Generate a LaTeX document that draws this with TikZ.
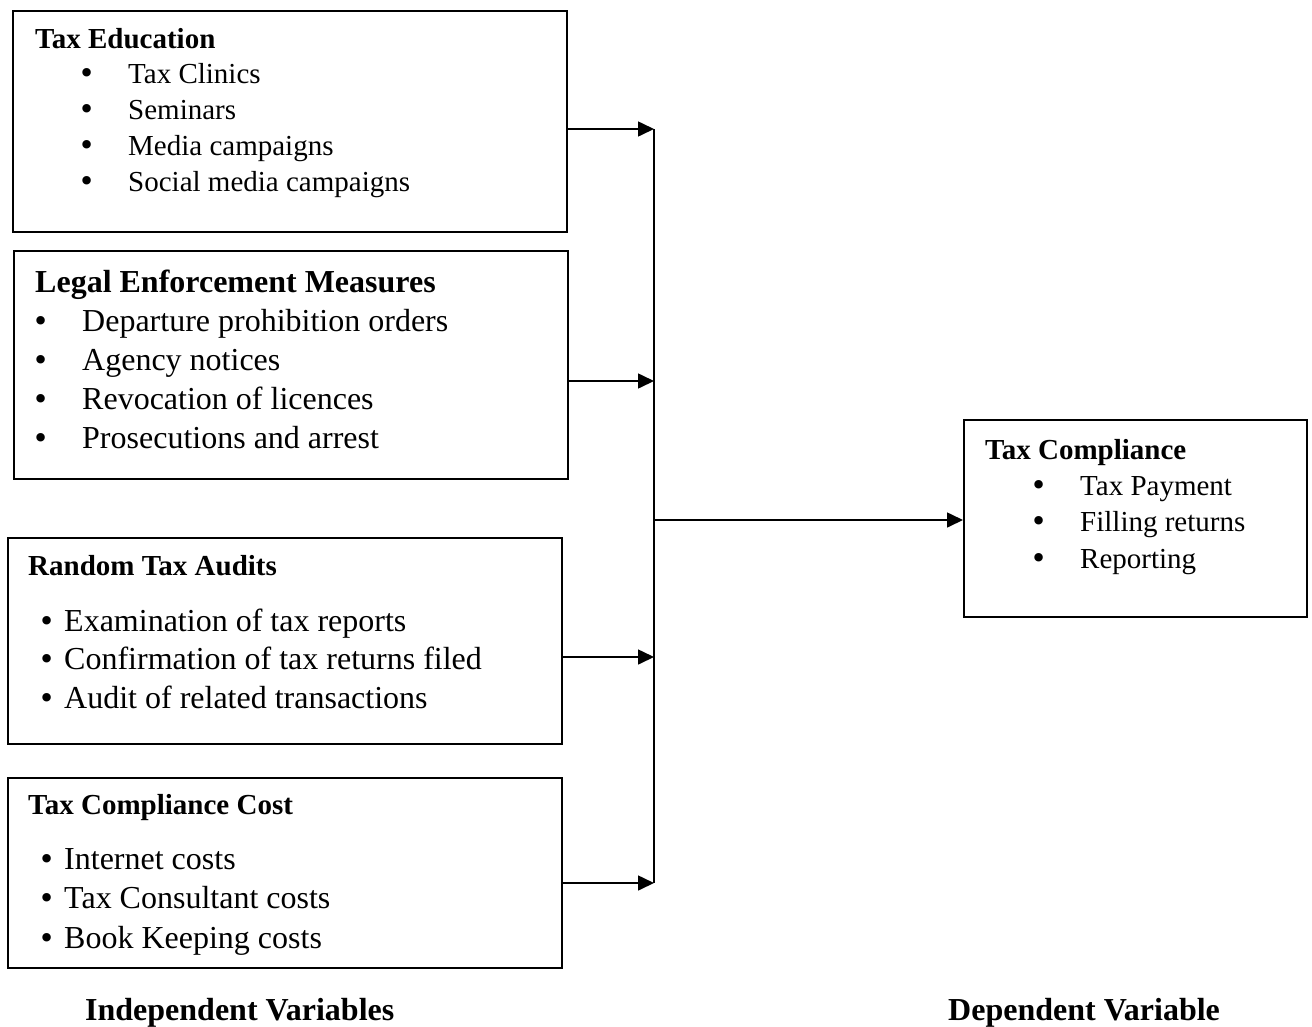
\documentclass[tikz,border=0pt]{standalone}
\usepackage{fontspec}
\setmainfont{Liberation Serif}
\newfontfamily\bulfont{DejaVu Sans}
\usetikzlibrary{arrows.meta}
\begin{document}
\begin{tikzpicture}[x=1pt,y=-1pt,
  box/.style={draw, line width=1.6pt, inner sep=0pt, anchor=north west},
  conn/.style={line width=1.6pt},
  arr/.style={conn, -{Triangle[length=16pt,width=15pt]}},
  hA/.style={inner sep=0pt, anchor=base west, font=\fontsize{29}{35}\selectfont\bfseries},
  hB/.style={inner sep=0pt, anchor=base west, font=\fontsize{32}{38}\selectfont\bfseries},
  tA/.style={inner sep=0pt, anchor=base west, font=\fontsize{29}{35}\selectfont},
  tB/.style={inner sep=0pt, anchor=base west, font=\fontsize{32}{38}\selectfont},
  bul/.style={inner sep=0pt, anchor=base, font=\fontsize{29}{35}\bulfont}]
\useasboundingbox (0,0) rectangle (1312,1026);

% boxes
\node[box, minimum width=554pt, minimum height=221pt] (b1) at (12,10) {};
\node[box, minimum width=554pt, minimum height=228pt] (b2) at (13,250) {};
\node[box, minimum width=554pt, minimum height=206pt] (b3) at (7,537) {};
\node[box, minimum width=554pt, minimum height=190pt] (b4) at (7,777) {};
\node[box, minimum width=343pt, minimum height=197pt] (b5) at (963,419) {};

% box 1 text
\node[hA] (h1) at (35,48) {Tax Education};
\node[bul] (p11) at (87,83) {•};
\node[tA] (t11) at (128,83) {Tax Clinics};
\node[bul] (p12) at (87,119) {•};
\node[tA] (t12) at (128,119) {Seminars};
\node[bul] (p13) at (87,155) {•};
\node[tA] (t13) at (128,155) {Media campaigns};
\node[bul] (p14) at (87,191) {•};
\node[tA] (t14) at (128,191) {Social media campaigns};

% box 2 text
\node[hB] (h2) at (35,292) {Legal Enforcement Measures};
\node[bul] (p21) at (41,331) {•};
\node[tB] (t21) at (82,331) {Departure prohibition orders};
\node[bul] (p22) at (41,370) {•};
\node[tB] (t22) at (82,370) {Agency notices};
\node[bul] (p23) at (41,409) {•};
\node[tB] (t23) at (82,409) {Revocation of licences};
\node[bul] (p24) at (41,448) {•};
\node[tB] (t24) at (82,448) {Prosecutions and arrest};

% box 3 text
\node[hA] (h3) at (28,575) {Random Tax Audits};
\node[bul] (p31) at (47,631) {•};
\node[tB] (t31) at (64,631) {Examination of tax reports};
\node[bul] (p32) at (47,669) {•};
\node[tB] (t32) at (64,669) {Confirmation of tax returns filed};
\node[bul] (p33) at (47,708) {•};
\node[tB] (t33) at (64,708) {Audit of related transactions};

% box 4 text
\node[hA] (h4) at (28,814) {Tax Compliance Cost};
\node[bul] (p41) at (47,869) {•};
\node[tB] (t41) at (64,869) {Internet costs};
\node[bul] (p42) at (47,908) {•};
\node[tB] (t42) at (64,908) {Tax Consultant costs};
\node[bul] (p43) at (47,948) {•};
\node[tB] (t43) at (64,948) {Book Keeping costs};

% box 5 text
\node[hA] (h5) at (985,459) {Tax Compliance};
\node[bul] (p51) at (1039,495) {•};
\node[tA] (t51) at (1080,495) {Tax Payment};
\node[bul] (p52) at (1039,531) {•};
\node[tA] (t52) at (1080,531) {Filling returns};
\node[bul] (p53) at (1039,568) {•};
\node[tA] (t53) at (1080,568) {Reporting};

% labels
\node[hB] (l1) at (85,1020) {Independent Variables};
\node[hB] (l2) at (948,1020) {Dependent Variable};

% connectors
\coordinate (j1) at (654,129);
\coordinate (j2) at (654,381);
\coordinate (j3) at (654,657);
\coordinate (j4) at (654,883);
\coordinate (jm) at (654,520);
\draw[conn] (j1) -- (j4);
\draw[arr] (b1.east |- j1) -- (j1);
\draw[arr] (b2.east |- j2) -- (j2);
\draw[arr] (b3.east |- j3) -- (j3);
\draw[arr] (b4.east |- j4) -- (j4);
\draw[arr] (jm) -- (b5.west |- jm);
\end{tikzpicture}
\end{document}
